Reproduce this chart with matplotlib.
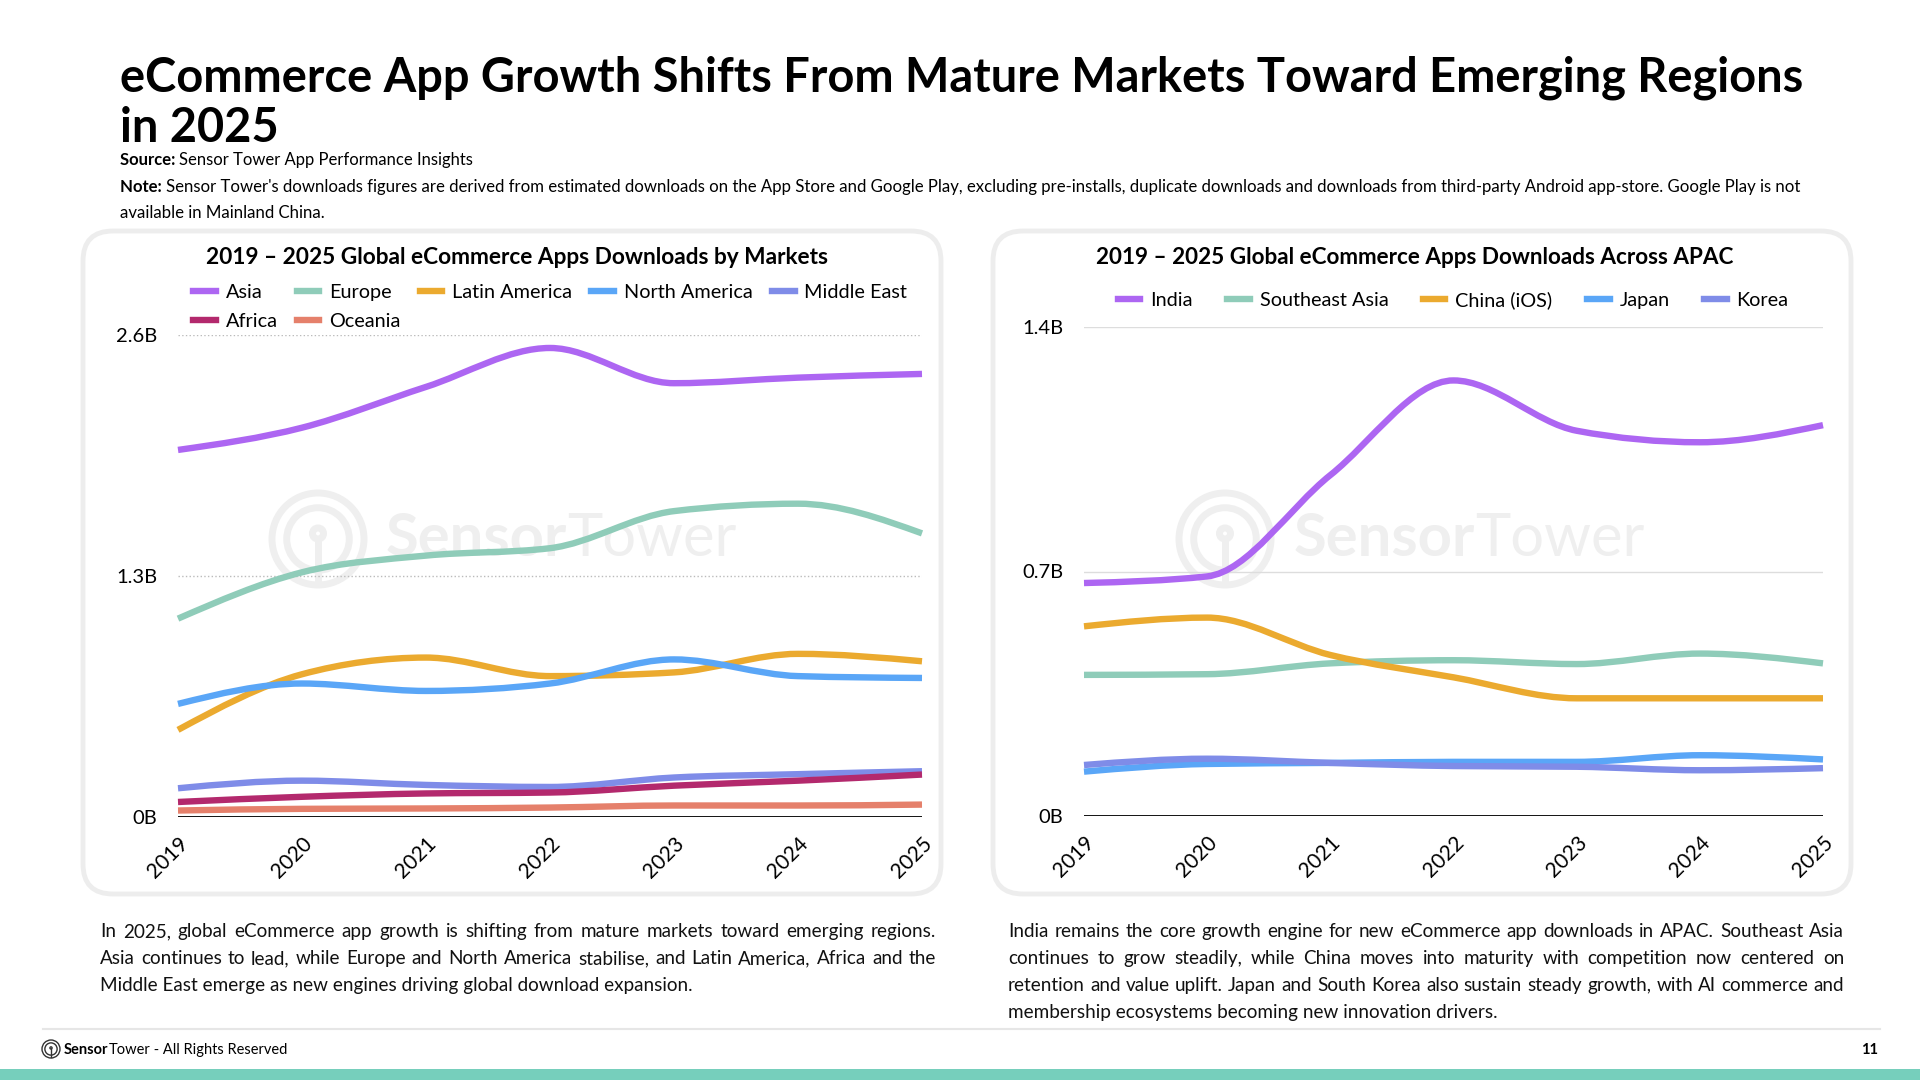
import numpy as np
import matplotlib
matplotlib.use("Agg")
import matplotlib.pyplot as plt
from matplotlib.path import Path
from matplotlib.patches import PathPatch, FancyBboxPatch, Circle, Rectangle
from matplotlib.lines import Line2D

plt.rcParams['font.family'] = ['Lato', 'DejaVu Sans']

# ---- data (billions of downloads) ----
years = [2019, 2020, 2021, 2022, 2023, 2024, 2025]

market_names = ["Asia", "Europe", "Latin America", "North America", "Middle East", "Africa", "Oceania"]
asia = [1.98, 2.10, 2.32, 2.53, 2.34, 2.37, 2.39]
europe = [1.07, 1.32, 1.41, 1.45, 1.65, 1.69, 1.53]
latin_america = [0.47, 0.77, 0.86, 0.76, 0.78, 0.88, 0.84]
north_america = [0.61, 0.72, 0.68, 0.72, 0.85, 0.76, 0.75]
middle_east = [0.155, 0.196, 0.173, 0.162, 0.213, 0.231, 0.247]
africa = [0.081, 0.109, 0.127, 0.132, 0.169, 0.196, 0.229]
oceania = [0.035, 0.044, 0.046, 0.051, 0.062, 0.062, 0.067]

apac_names = ["India", "Southeast Asia", "China (iOS)", "Japan", "Korea"]
india = [0.667, 0.686, 0.976, 1.247, 1.103, 1.070, 1.119]
southeast_asia = [0.404, 0.406, 0.437, 0.446, 0.435, 0.465, 0.437]
china_ios = [0.543, 0.568, 0.461, 0.397, 0.337, 0.337, 0.337]
japan = [0.127, 0.149, 0.152, 0.155, 0.155, 0.174, 0.162]
korea = [0.146, 0.164, 0.152, 0.143, 0.141, 0.131, 0.137]

left_ticks = [0, 1.3, 2.6]
left_tick_labels = ["0B", "1.3B", "2.6B"]
right_ticks = [0, 0.7, 1.4]
right_tick_labels = ["0B", "0.7B", "1.4B"]

PURPLE = "#AD66F2"
MINT = "#8FCCB9"
GOLD = "#EBAA2F"
BLUE = "#5AA6F7"
PERI = "#7F8CE8"
AFRICA = "#B3296D"
OCEANIA = "#E5806B"
WATER = "#EFEFEF"

market_series = [asia, europe, latin_america, north_america, middle_east, africa, oceania]
market_colors = [PURPLE, MINT, GOLD, BLUE, PERI, AFRICA, OCEANIA]
apac_series = [india, southeast_asia, china_ios, japan, korea]
apac_colors = [PURPLE, MINT, GOLD, BLUE, PERI]

title_lines = ["eCommerce App Growth Shifts From Mature Markets Toward Emerging Regions", "in 2025"]
note_lines = ["Sensor Tower's downloads figures are derived from estimated downloads on the App Store and Google Play, "
              "excluding pre-installs, duplicate downloads and downloads from third-party Android app-store. Google Play is not",
              "available in Mainland China."]
left_text = ["In 2025, global eCommerce app growth is shifting from mature markets toward emerging regions.",
             "Asia continues to lead, while Europe and North America stabilise, and Latin America, Africa and the",
             "Middle East emerge as new engines driving global download expansion."]
right_text = ["India remains the core growth engine for new eCommerce app downloads in APAC. Southeast Asia",
              "continues to grow steadily, while China moves into maturity with competition now centered on",
              "retention and value uplift. Japan and South Korea also sustain steady growth, with AI commerce and",
              "membership ecosystems becoming new innovation drivers."]


def monotone_path(xs, ys):
    # cubic monotone curve (same idea as d3 curveMonotoneX), as bezier segments
    x = np.asarray(xs, float)
    y = np.asarray(ys, float)
    h = np.diff(x)
    s = np.diff(y) / h
    m = np.zeros(len(x))
    for i in range(1, len(x) - 1):
        if s[i - 1] * s[i] <= 0:
            m[i] = 0.0
        else:
            p = (s[i - 1] * h[i] + s[i] * h[i - 1]) / (h[i - 1] + h[i])
            m[i] = (np.sign(s[i - 1]) + np.sign(s[i])) * min(abs(s[i - 1]), abs(s[i]), 0.5 * abs(p))
    m[0] = (3 * s[0] - m[1]) / 2
    m[-1] = (3 * s[-1] - m[-2]) / 2
    verts = [(x[0], y[0])]
    codes = [Path.MOVETO]
    for i in range(len(x) - 1):
        d = h[i] / 3
        verts += [(x[i] + d, y[i] + m[i] * d), (x[i + 1] - d, y[i + 1] - m[i + 1] * d), (x[i + 1], y[i + 1])]
        codes += [Path.CURVE4] * 3
    return Path(verts, codes)


def smooth_line(ax, ys, color, z):
    patch = PathPatch(monotone_path(years, ys), fill=False, edgecolor=color, lw=4.6,
                      capstyle='butt', joinstyle='round', zorder=z, clip_on=False)
    ax.add_patch(patch)


fig = plt.figure(figsize=(19.2, 10.8), dpi=100)
fig.patch.set_facecolor("white")

# full-figure canvas in pixel units (y downwards) for layout pieces
bg = fig.add_axes([0, 0, 1, 1], zorder=0)
bg.set_xlim(0, 1920)
bg.set_ylim(1080, 0)
bg.axis("off")
renderer = fig.canvas.get_renderer()


def put_run(x, y, pieces, size, color="black", va="baseline"):
    for txt, weight in pieces:
        t = bg.text(x, y, txt, fontsize=size, fontweight=weight, color=color, va=va, ha="left")
        x += t.get_window_extent(renderer).width
    return x


def justify(lines, x0, y0, width, lh, size):
    for k, line in enumerate(lines):
        y = y0 + k * lh
        if k == len(lines) - 1:
            bg.text(x0, y, line, fontsize=size, va="baseline", color="#111111")
            continue
        words = line.split(" ")
        objs = [bg.text(0, y, w, fontsize=size, va="baseline", color="#111111") for w in words]
        widths = [o.get_window_extent(renderer).width for o in objs]
        gap = (width - sum(widths)) / (len(words) - 1)
        x = x0
        for o, w in zip(objs, widths):
            o.set_x(x)
            x += w + gap


def sensor_logo(cx, cy, r, color, lw):
    bg.add_patch(Circle((cx, cy), r, fill=False, ec=color, lw=lw))
    bg.add_patch(Circle((cx, cy), r * 0.68, fill=False, ec=color, lw=lw))
    bg.add_patch(Circle((cx, cy - r * 0.12), r * 0.12, fill=False, ec=color, lw=lw))
    bg.plot([cx, cx], [cy, cy + r * 0.9], color=color, lw=lw)


# header
bg.text(120, 92, title_lines[0], fontsize=33.8, fontweight="bold", va="baseline")
bg.text(120, 142, title_lines[1], fontsize=33.8, fontweight="bold", va="baseline")
put_run(120, 165, [("Source: ", "bold"), ("Sensor Tower App Performance Insights", "normal")], 12)
put_run(120, 192, [("Note: ", "bold"), (note_lines[0], "normal")], 12.1)
bg.text(120, 218, note_lines[1], fontsize=12.1, va="baseline")

# panels
for px in (83, 993):
    bg.add_patch(FancyBboxPatch((px, 231), 858, 663, boxstyle="round,pad=0,rounding_size=30",
                                fc="white", ec="#EDEDED", lw=3.5))

# watermarks
for cx, tx in ((318, 386), (1225, 1294)):
    sensor_logo(cx, 539, 46, WATER, 5)
    put_run(tx, 539, [("Sensor", "bold"), ("Tower", "normal")], 43, color=WATER, va="center")

# chart titles
bg.text(517, 257, "2019 \u2013 2025 Global eCommerce Apps Downloads by Markets",
        fontsize=16.3, fontweight="bold", ha="center", va="center")
bg.text(1415, 258, "2019 \u2013 2025 Global eCommerce Apps Downloads Across APAC",
        fontsize=16.2, fontweight="bold", ha="center", va="center")


def setup_axes(ax, ticks, labels, grid_color, grid_ls):
    ax.set_facecolor("none")
    ax.set_xlim(2019, 2025)
    ax.set_ylim(0, ticks[-1])
    for s in ax.spines.values():
        s.set_visible(False)
    ax.set_yticks(ticks)
    ax.set_yticklabels(labels, fontsize=14.5)
    ax.tick_params(axis="y", length=0, pad=15)
    ax.set_xticks(years)
    ax.set_xticklabels([str(y) for y in years], fontsize=15, rotation=45, ha="right", rotation_mode="anchor")
    ax.tick_params(axis="x", length=0, pad=12)
    for t in ticks[1:]:
        ax.axhline(t, color=grid_color, ls=grid_ls, lw=1.0, zorder=1)
    ax.axhline(0, color="black", lw=1.3, zorder=2)


axl = fig.add_axes([178 / 1920, 263 / 1080, 744 / 1920, 482 / 1080], zorder=2)
setup_axes(axl, left_ticks, left_tick_labels, "#BBBBBB", ":")
for i, (ys, c) in enumerate(zip(market_series, market_colors)):
    smooth_line(axl, ys, c, 3 + i)

axr = fig.add_axes([1084 / 1920, 264 / 1080, 739 / 1920, 489 / 1080], zorder=2)
setup_axes(axr, right_ticks, right_tick_labels, "#DDDDDD", "-")
for i, (ys, c) in enumerate(zip(apac_series, apac_colors)):
    smooth_line(axr, ys, c, 3 + i)

# legends
mh = [Line2D([], [], color=c, lw=4.6) for c in market_colors]
order = [0, 5, 1, 6, 2, 3, 4]
axl.legend([mh[i] for i in order], [market_names[i] for i in order], ncol=5, frameon=False,
           loc="upper left", bbox_to_anchor=(193 / 1920, 1 - 284 / 1080), bbox_transform=fig.transFigure,
           fontsize=14.3, handlelength=1.15, handletextpad=0.5, columnspacing=0.95,
           labelspacing=0.62, borderpad=0, borderaxespad=0)

ah = [Line2D([], [], color=c, lw=4.6) for c in apac_colors]
axr.legend(ah, apac_names, ncol=5, frameon=False,
           loc="upper center", bbox_to_anchor=(1453 / 1920, 1 - 291 / 1080), bbox_transform=fig.transFigure,
           fontsize=14.3, handlelength=1.15, handletextpad=0.5, columnspacing=1.72,
           borderpad=0, borderaxespad=0)

# commentary
justify(left_text, 100, 937, 836, 27, 13.6)
justify(right_text, 1008, 937, 836, 27, 13.6)

# footer
bg.plot([43, 1880], [1029, 1029], color="#E6E6E6", lw=1.5)
sensor_logo(51, 1049, 9, "#333333", 1.0)
put_run(64, 1054, [("Sensor", "bold"), ("Tower", "normal"), (" - All Rights Reserved", "normal")], 10.5)
bg.text(1878, 1054, "11", fontsize=10.5, fontweight="bold", ha="right", va="baseline")
bg.add_patch(Rectangle((0, 1069), 1920, 11, color="#76CFBC", lw=0))

fig.savefig("out.png", dpi=100, facecolor="white")
